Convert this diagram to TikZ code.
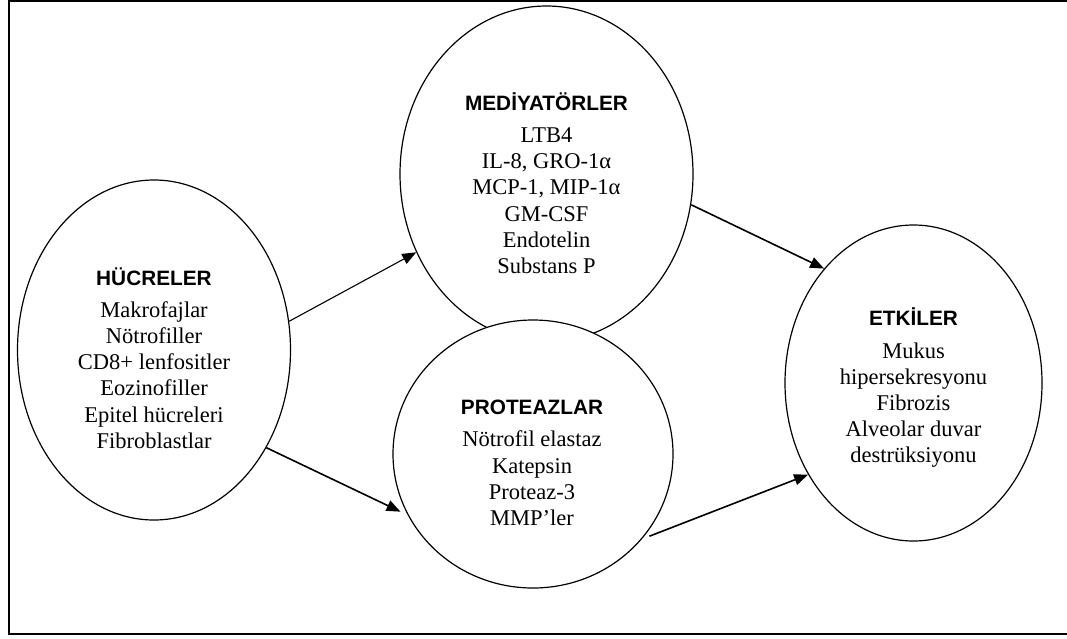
\documentclass[tikz,border=0pt]{standalone}
\usepackage{fontspec}
\setmainfont{Liberation Serif}
\newfontfamily\headfont{Liberation Sans}
\usetikzlibrary{positioning,shapes.geometric,arrows.meta}

\begin{document}
\begin{tikzpicture}[x=1pt,y=-1pt,
                    group node/.style={ellipse,draw,line width=1.2pt,fill=white,inner sep=0pt},
                    list text/.style={align=center,inner sep=0pt,font=\fontsize{22.5}{26.2}\selectfont},
                    link/.style={-{Triangle[length=14pt,width=11pt]},line width=1.6pt}]
  \newcommand{\grouptitle}[1]{{\headfont\bfseries\fontsize{20.8}{24}\selectfont #1}\\[6pt]}

  \useasboundingbox (0,0) rectangle (1067,638);
  \draw[line width=2pt] (9,1) rectangle (1090,634);

  % the four groups
  \node[group node,minimum width=273pt,minimum height=340pt] (hucre) at (154,350) {};
  \node[group node,minimum width=293pt,minimum height=336pt] (mediyator) at (546.5,174) {};
  \node[group node,minimum width=280pt,minimum height=268pt] (proteaz) at (533,454) {};
  \node[group node,minimum width=257pt,minimum height=316pt] (etki) at (913.5,383) {};

  \node[list text,yshift=-8pt] (hucretext) at (hucre.center)
    {\grouptitle{HÜCRELER}Makrofajlar\\Nötrofiller\\CD8+ lenfositler\\Eozinofiller\\Epitel hücreleri\\Fibroblastlar};
  \node[list text,yshift=-9pt] (mediyatortext) at (mediyator.center)
    {\grouptitle{MEDİYATÖRLER}LTB4\\IL-8, GRO-1α\\MCP-1, MIP-1α\\GM-CSF\\Endotelin\\Substans P};
  \node[list text,yshift=-9pt,xshift=-1pt] (proteaztext) at (proteaz.center)
    {\grouptitle{PROTEAZLAR}Nötrofil elastaz\\Katepsin\\Proteaz-3\\MMP’ler};
  \node[list text,yshift=-5pt] (etkitext) at (etki.center)
    {\grouptitle{ETKİLER}Mukus\\hipersekresyonu\\Fibrozis\\Alveolar duvar\\destrüksiyonu};

  % arrows
  \draw[link,line width=1.1pt] (hucre.12) -- (mediyator.211);
  \draw[link] (mediyator.348) -- (etki.128);
  \draw[link,shorten >=8pt] (hucre.319) -- (proteaz.206);
  \draw[link,shorten <=8pt] (proteaz.322) -- (etki.221);
\end{tikzpicture}
\end{document}
